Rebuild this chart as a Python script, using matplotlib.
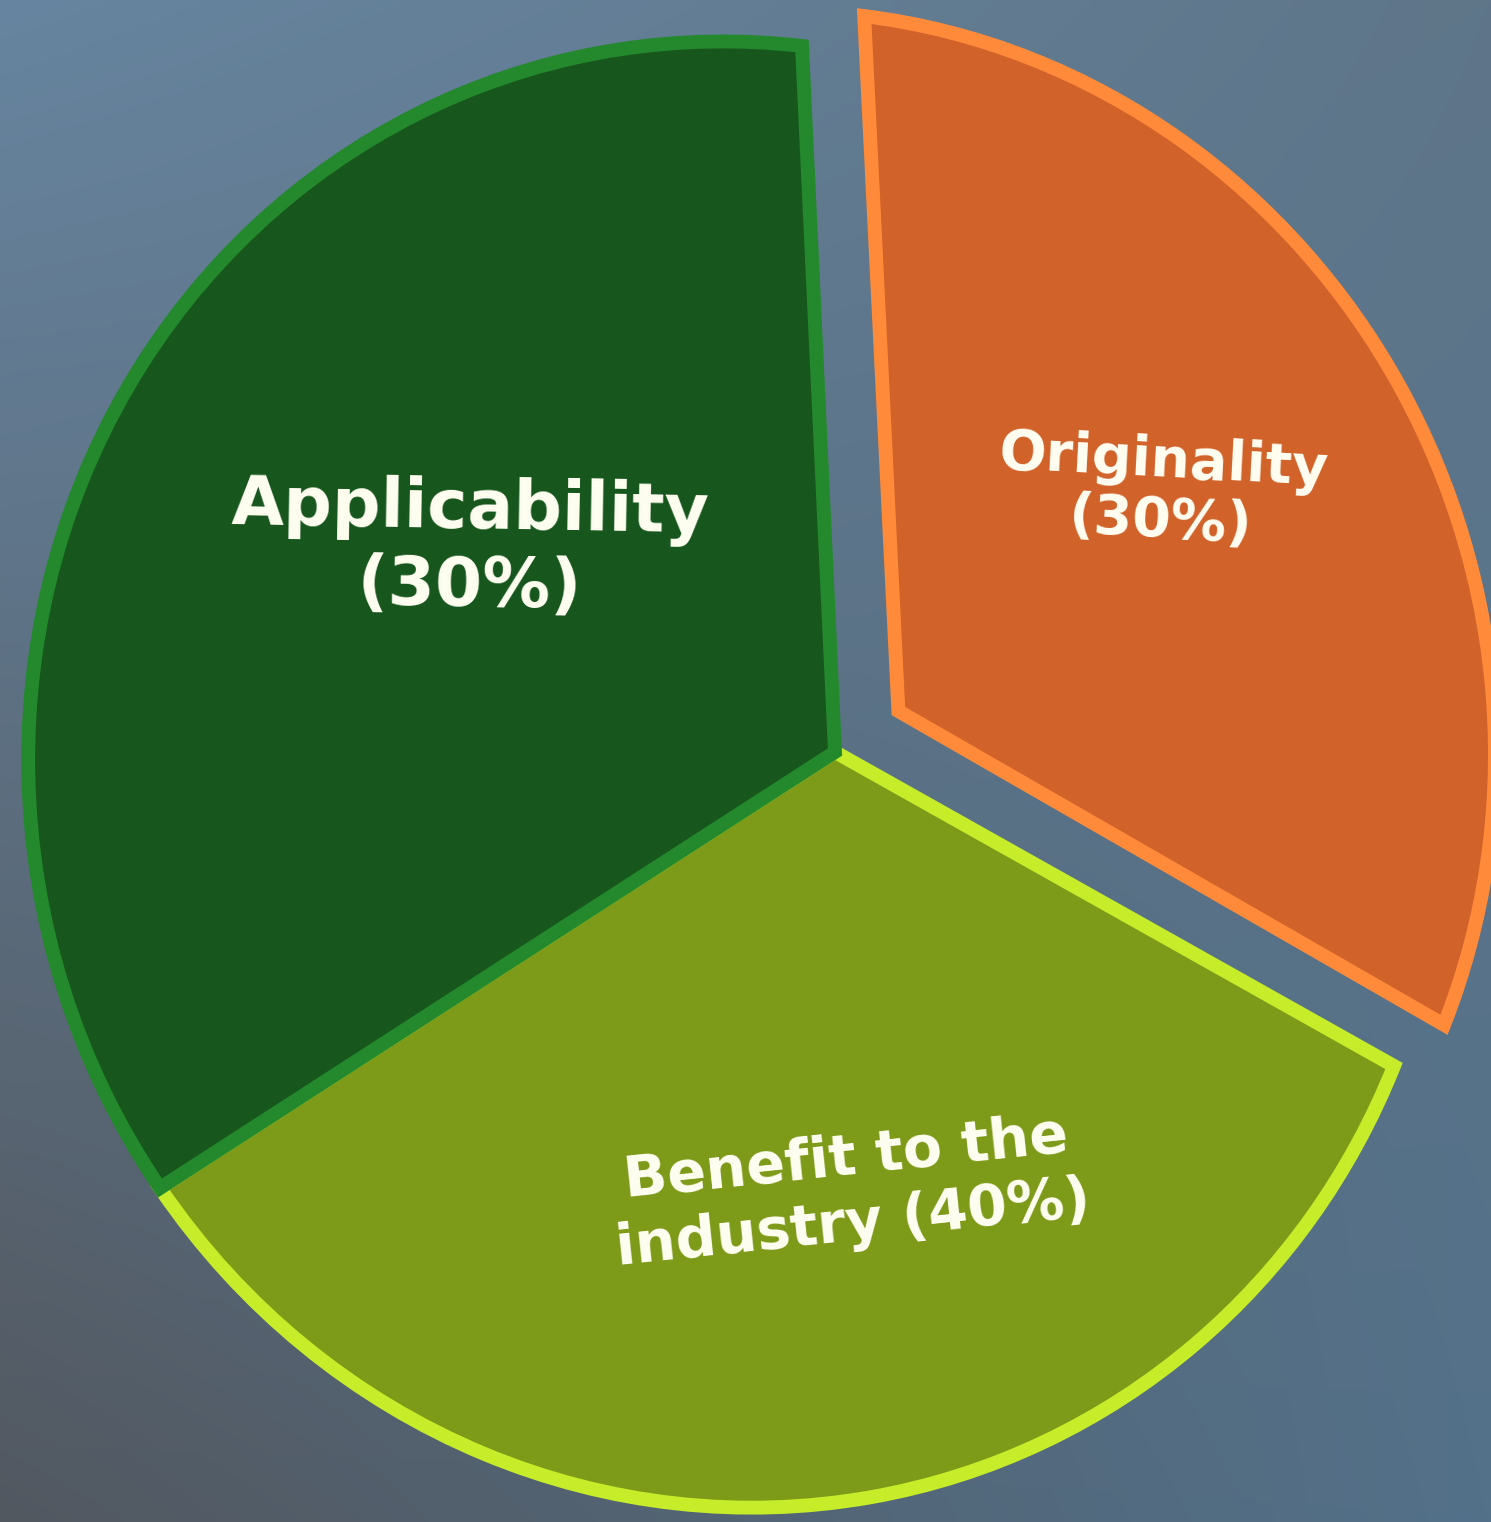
import numpy as np
import matplotlib
matplotlib.use("Agg")
import matplotlib.pyplot as plt
from matplotlib.colors import to_rgb
from matplotlib.transforms import Transform

# data
categories = ["Originality", "Benefit to the industry", "Applicability"]
shares = [30, 40, 30]                 # weights written in the labels
slice_sizes = [1, 1, 1]               # the graphic itself draws three equal segments
label_text = ["Originality\n(30%)", "Benefit to the\nindustry (40%)", "Applicability\n(30%)"]

face_colors = ["#d1622a", "#7e9a19", "#17561d"]
rim_colors = ["#ff8b3a", "#c6ec2a", "#23892c"]
pull_out = [0.11, 0, 0]

W, H = 1491, 1522


def homography(src, dst):
    rows = []
    for (x, y), (u, v) in zip(src, dst):
        rows.append([x, y, 1, 0, 0, 0, -u * x, -u * y, -u])
        rows.append([0, 0, 0, x, y, 1, -v * x, -v * y, -v])
    m = np.linalg.svd(np.array(rows, float))[2][-1].reshape(3, 3)
    return m / m[2, 2]


class Tilt(Transform):
    # perspective view of the flat pie (pie plane -> image pixels)
    input_dims = output_dims = 2

    def __init__(self, m):
        super().__init__()
        self.m = m

    def transform_non_affine(self, xy):
        xy = np.atleast_2d(np.asarray(xy, float))
        p = np.column_stack([xy, np.ones(len(xy))]) @ self.m.T
        return p[:, :2] / p[:, 2:]


# boundaries of the slices in the pie plane
start = 92.8
bounds = start - 360 * np.cumsum(slice_sizes) / np.sum(slice_sizes)
a0 = np.radians(start)
a1 = np.radians(bounds[0])
a2 = np.radians(bounds[1])
src = [(0, 0), (np.cos(a0), np.sin(a0)), (np.cos(a1), np.sin(a1)), (np.cos(a2), np.sin(a2))]
dst = [(835, 752), (802, 46), (1394, 1066), (160, 1188)]
tilt = Tilt(homography(src, dst))

fig = plt.figure(figsize=(W / 100, H / 100), dpi=100)
ax = fig.add_axes([0, 0, 1, 1])

# background gradient
tl, tr = np.array(to_rgb("#6785a0")), np.array(to_rgb("#5f7689"))
bl, br = np.array(to_rgb("#525860")), np.array(to_rgb("#53718a"))
u = np.linspace(0, 1, 200)[None, :, None]
v = np.linspace(0, 1, 200)[:, None, None]
bg = (1 - v) * ((1 - u) * tl + u * tr) + v * ((1 - u) * bl + u * br)
ax.imshow(bg, extent=[0, W, H, 0], origin="upper", zorder=0, interpolation="bilinear")

wedges, _ = ax.pie(slice_sizes, startangle=start, counterclock=False,
                   explode=pull_out, colors=face_colors,
                   wedgeprops=dict(linewidth=10, joinstyle="miter"))
for w, rc in zip(wedges, rim_colors):
    w.set_edgecolor(rc)
    w.set_transform(tilt + ax.transData)
    w.set_zorder(2)

# labels
ax.text(470, 548, label_text[2], ha="center", va="center", multialignment="center",
        fontsize=49, fontweight="bold", color="#fffff2", rotation=-1,
        linespacing=1.2, zorder=3)
ax.text(1162, 492, label_text[0], ha="center", va="center", multialignment="center",
        fontsize=40, fontweight="bold", color="#fffff2", rotation=-3,
        linespacing=1.15, zorder=3)
ax.text(850, 1192, label_text[1], ha="center", va="center", multialignment="center",
        fontsize=41, fontweight="bold", color="#fffff2", rotation=6,
        linespacing=1.25, zorder=3)

ax.set_xlim(0, W)
ax.set_ylim(H, 0)
ax.set_aspect("auto")
ax.axis("off")

fig.savefig("out.png", dpi=100)
